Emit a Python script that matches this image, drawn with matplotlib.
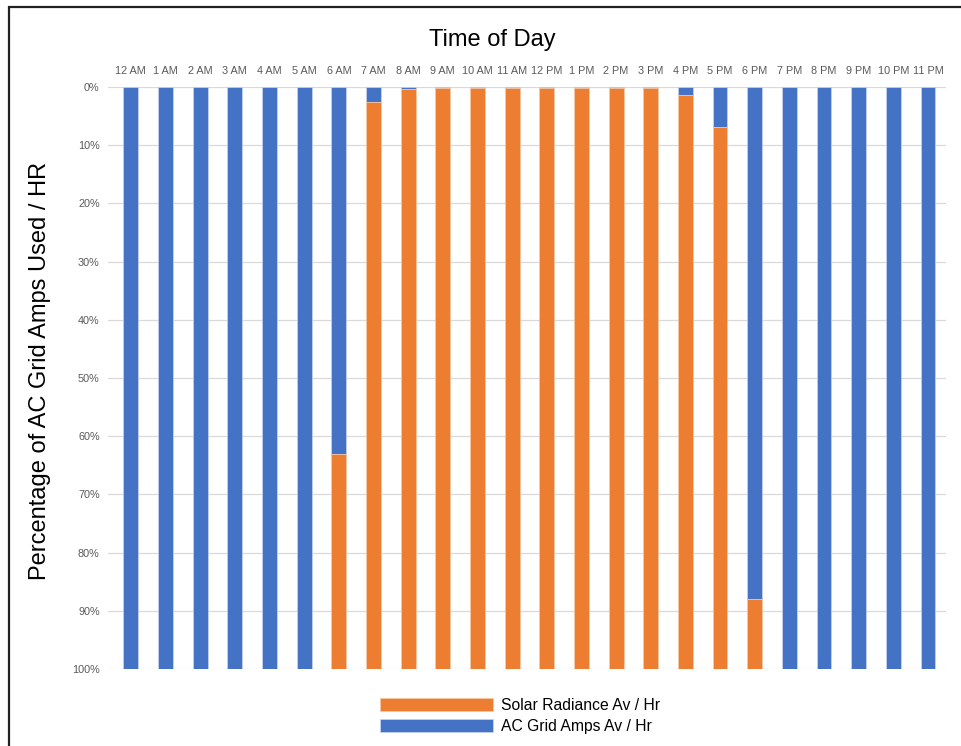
import matplotlib.pyplot as plt
from matplotlib.patches import Rectangle
from matplotlib.ticker import PercentFormatter
import numpy as np

# ======== Data ========
hours = ['12 AM', '1 AM', '2 AM', '3 AM', '4 AM', '5 AM', '6 AM', '7 AM',
         '8 AM', '9 AM', '10 AM', '11 AM', '12 PM', '1 PM', '2 PM', '3 PM',
         '4 PM', '5 PM', '6 PM', '7 PM', '8 PM', '9 PM', '10 PM', '11 PM']
grid_pct = [100, 100, 100, 100, 100, 100, 63.1, 2.6,
            0.4, 0.1, 0.1, 0.1, 0.1, 0.1, 0.1, 0.2,
            1.4, 6.8, 88.0, 100, 100, 100, 100, 100]
solar_pct = [0, 0, 0, 0, 0, 0, 36.9, 97.4,
             99.6, 99.9, 99.9, 99.9, 99.9, 99.9, 99.9, 99.8,
             98.6, 93.2, 12.0, 0, 0, 0, 0, 0]

BLUE = '#4472C4'
ORANGE = '#ED7D31'
W, H = 962, 746

plt.rcParams['font.family'] = ['Liberation Sans', 'DejaVu Sans']
fig = plt.figure(figsize=(W / 100, H / 100), dpi=100)

# outer chart border (cut at right/bottom like the screenshot)
fig.patches.append(Rectangle((9 / W, -0.1), 1.2, 1.1 - 7 / H, transform=fig.transFigure,
                             fill=False, ec='#222222', lw=1.6))

ax = fig.add_axes([108 / W, 1 - 669 / H, (946 - 108) / W, (669 - 87) / H])
x = np.arange(len(hours))
ax.bar(x, grid_pct, width=0.43, color=BLUE, edgecolor='#c9d6ee', lw=0.5,
       label='AC Grid Amps Av / Hr', zorder=3)
ax.bar(x, solar_pct, width=0.43, bottom=grid_pct, color=ORANGE, edgecolor='#f7c9a8',
       lw=0.5, label='Solar Radiance Av / Hr', zorder=3)

ax.set_xlim(-0.66, 23.52)
ax.set_ylim(100, 0)
ax.set_yticks(np.arange(0, 101, 10))
ax.yaxis.set_major_formatter(PercentFormatter(decimals=0))
ax.grid(axis='y', color='#d9d9d9', lw=0.9, zorder=0)
ax.set_xticks(x)
ax.set_xticklabels(hours)
ax.xaxis.tick_top()
ax.tick_params(axis='both', length=0, labelsize=7.8, colors='#595959')
ax.tick_params(axis='x', pad=8)
ax.tick_params(axis='y', pad=6)
for s in ax.spines.values():
    s.set_visible(False)

fig.text(492 / W, 1 - 40 / H, 'Time of Day', ha='center', va='center', fontsize=17)
fig.text(40 / W, 1 - 371 / H, 'Percentage of AC Grid Amps Used / HR', rotation=90,
         ha='center', va='center', fontsize=17)

handles, labels = ax.get_legend_handles_labels()
ax.legend(handles[::-1], labels[::-1], loc='center', bbox_to_anchor=(520 / W, 1 - 716 / H),
          bbox_transform=fig.transFigure, frameon=False, fontsize=11.3,
          handlelength=7.2, handleheight=0.85, handletextpad=0.5, labelspacing=0.4)

fig.savefig('out.png', dpi=100)
